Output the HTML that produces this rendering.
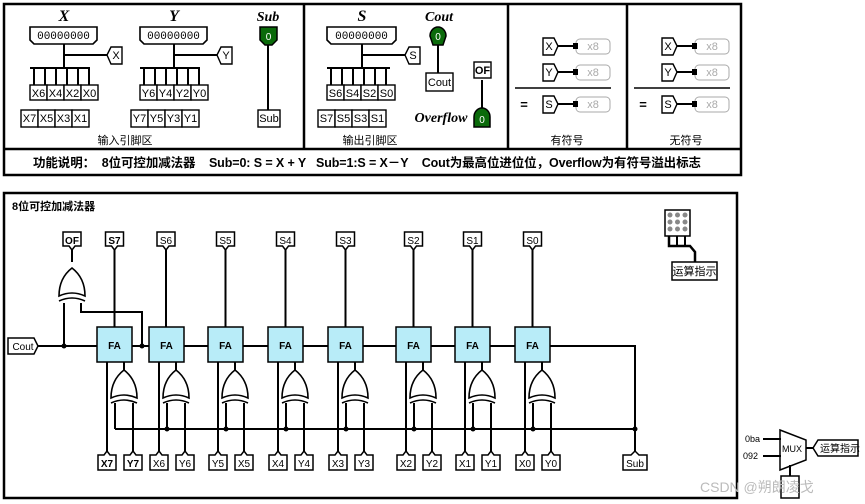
<!DOCTYPE html>
<html><head><meta charset="utf-8"><style>
html,body{margin:0;padding:0;background:#fff;}
svg{display:block;}
text{font-family:"Liberation Sans","Noto Sans CJK SC",sans-serif;}
text.ser{font-family:"Liberation Serif",serif;font-style:italic;font-weight:bold;}
</style></head><body>
<svg width="865" height="504" viewBox="0 0 865 504" xmlns="http://www.w3.org/2000/svg">
<defs>
<g id="xor" fill="none" stroke="#000" stroke-width="1.6">
<path d="M-13,28 Q0,22 13,28 Q13,10 0,0 Q-13,10 -13,28 Z" fill="#fff"/>
<path d="M-13,33 Q0,27 13,33"/>
</g>
<g id="pu" fill="#fff" stroke="#000" stroke-width="1.5"><path d="M-9,4 L-3,4 L0,0 L3,4 L9,4 L9,19 L-9,19 Z"/></g>
<g id="pd" fill="#fff" stroke="#000" stroke-width="1.5"><path d="M-9,0 L9,0 L9,14 L3,14 L0,18 L-3,14 L-9,14 Z"/></g>
</defs>
<g stroke="#000" stroke-width="2.5" fill="none">
<rect x="4" y="4" width="737" height="171"/>
<line x1="4" y1="149" x2="741" y2="149"/>
<line x1="304" y1="4" x2="304" y2="149"/>
<line x1="508" y1="4" x2="508" y2="149"/>
<line x1="627" y1="4" x2="627" y2="149"/>
<rect x="4" y="193" width="733" height="305"/>
</g>
<g>
<text class="ser" x="64" y="21" font-size="16" text-anchor="middle">X</text>
<text class="ser" x="174" y="21" font-size="16" text-anchor="middle">Y</text>
<text class="ser" x="268" y="21" font-size="14" text-anchor="middle">Sub</text>
<text class="ser" x="362" y="21" font-size="16" text-anchor="middle">S</text>
<text class="ser" x="439" y="21" font-size="14" text-anchor="middle">Cout</text>
<text class="ser" x="441" y="122" font-size="14" text-anchor="middle">Overflow</text>
</g>
<g stroke="#000" stroke-width="1.6" fill="#fff">
<path d="M30,27 H97 V40 L93,44 H34 L30,40 Z"/>
<path d="M140,27 H207 V40 L203,44 H144 L140,40 Z"/>
<path d="M327,27 H396 V40 L392,44 H331 L327,40 Z"/>
</g>
<g font-size="11" text-anchor="middle" style="font-family:'Liberation Mono',monospace">
<text x="63.5" y="39" style="font-family:'Liberation Mono',monospace">00000000</text><text x="173.5" y="39" style="font-family:'Liberation Mono',monospace">00000000</text><text x="361.5" y="39" style="font-family:'Liberation Mono',monospace">00000000</text>
</g>
<g stroke="#000" stroke-width="2" fill="none">
<path d="M64,44 V68 M64,55 H107 M30,68 H90 M34,68 V85 M45,68 V85 M56,68 V85 M67,68 V85 M78,68 V85 M89,68 V85"/>
<path d="M174,44 V68 M174,55 H217 M140,68 H200 M144,68 V85 M155,68 V85 M166,68 V85 M177,68 V85 M188,68 V85 M199,68 V85"/>
<path d="M362,44 V68 M362,55 H405 M327,68 H390 M331,68 V85 M342,68 V85 M353,68 V85 M364,68 V85 M375,68 V85 M386,68 V85"/>
<path d="M268,45 V110 M438,45 V73 M482,80 V108"/>
</g>
<g stroke="#000" stroke-width="1.4" fill="#fff">
<path d="M107,55 L111,47 H122 V64 H111 Z"/><path d="M217,55 L221,47 H232 V64 H221 Z"/><path d="M405,55 L409,47 H420 V64 H409 Z"/>
</g>
<g font-size="11" text-anchor="middle"><text x="116" y="59">X</text><text x="226" y="59">Y</text><text x="413" y="59">S</text></g>
<g stroke="#000" stroke-width="1.4" fill="#fff">
<rect x="30" y="85" width="17" height="15"/><rect x="47" y="85" width="17" height="15"/><rect x="64" y="85" width="17" height="15"/><rect x="81" y="85" width="17" height="15"/>
<rect x="21" y="110" width="17" height="17"/><rect x="38" y="110" width="17" height="17"/><rect x="55" y="110" width="17" height="17"/><rect x="72" y="110" width="17" height="17"/>
<rect x="140" y="85" width="17" height="15"/><rect x="157" y="85" width="17" height="15"/><rect x="174" y="85" width="17" height="15"/><rect x="191" y="85" width="17" height="15"/>
<rect x="131" y="110" width="17" height="17"/><rect x="148" y="110" width="17" height="17"/><rect x="165" y="110" width="17" height="17"/><rect x="182" y="110" width="17" height="17"/>
<rect x="327" y="85" width="17" height="15"/><rect x="344" y="85" width="17" height="15"/><rect x="361" y="85" width="17" height="15"/><rect x="378" y="85" width="17" height="15"/>
<rect x="318" y="110" width="17" height="17"/><rect x="335" y="110" width="17" height="17"/><rect x="352" y="110" width="17" height="17"/><rect x="369" y="110" width="17" height="17"/>
<rect x="258" y="110" width="22" height="17"/><rect x="426" y="73" width="27" height="18"/><rect x="474" y="62" width="17" height="16"/>
</g>
<g font-size="11" text-anchor="middle">
<text x="38.5" y="97">X6</text><text x="55.5" y="97">X4</text><text x="72.5" y="97">X2</text><text x="89.5" y="97">X0</text>
<text x="29.5" y="122">X7</text><text x="46.5" y="122">X5</text><text x="63.5" y="122">X3</text><text x="80.5" y="122">X1</text>
<text x="148.5" y="97">Y6</text><text x="165.5" y="97">Y4</text><text x="182.5" y="97">Y2</text><text x="199.5" y="97">Y0</text>
<text x="139.5" y="122">Y7</text><text x="156.5" y="122">Y5</text><text x="173.5" y="122">Y3</text><text x="190.5" y="122">Y1</text>
<text x="335.5" y="97">S6</text><text x="352.5" y="97">S4</text><text x="369.5" y="97">S2</text><text x="386.5" y="97">S0</text>
<text x="326.5" y="122">S7</text><text x="343.5" y="122">S5</text><text x="360.5" y="122">S3</text><text x="377.5" y="122">S1</text>
<text x="269" y="122">Sub</text><text x="439.5" y="86">Cout</text><text x="482.5" y="74" font-weight="bold">OF</text>
<text x="125" y="144">输入引脚区</text><text x="370" y="144">输出引脚区</text>
<text x="567" y="144">有符号</text><text x="686" y="144">无符号</text>
</g>
<g fill="#0a6a0a" stroke="#000" stroke-width="1.5">
<path d="M260,27 H277 V40 L272,45 H265 L260,40 Z"/>
<path d="M438,27 A8,9 0 0 1 446,36 L443,45 H433 L430,36 A8,9 0 0 1 438,27 Z"/>
<path d="M482,108 A8,9 0 0 1 490,117 L490,127 H474 L474,117 A8,9 0 0 1 482,108 Z"/>
</g>
<g fill="#fff" font-size="10" text-anchor="middle"><text x="268.5" y="40">0</text><text x="438" y="40">0</text><text x="482" y="123">0</text></g>
<g stroke="#000" stroke-width="1.4">
<path d="M543,38 H554 L558,46 L554,55 H543 Z" fill="#fff"/><path d="M543,64 H554 L558,72 L554,81 H543 Z" fill="#fff"/><path d="M543,96 H554 L558,104 L554,113 H543 Z" fill="#fff"/>
<path d="M662,38 H673 L677,46 L673,55 H662 Z" fill="#fff"/><path d="M662,64 H673 L677,72 L673,81 H662 Z" fill="#fff"/><path d="M662,96 H673 L677,104 L673,113 H662 Z" fill="#fff"/>
<path d="M558,46 H576 M558,72 H576 M558,104 H576 M677,46 H695 M677,72 H695 M677,104 H695" stroke-width="2"/>
<line x1="515" y1="88" x2="611" y2="88" stroke-width="1.5"/><line x1="634" y1="88" x2="730" y2="88" stroke-width="1.5"/>
</g>
<g fill="#fff" stroke="#aaa" stroke-width="1">
<rect x="576" y="39" width="34" height="15" rx="4"/><rect x="576" y="65" width="34" height="15" rx="4"/><rect x="576" y="97" width="34" height="15" rx="4"/>
<rect x="695" y="39" width="34" height="15" rx="4"/><rect x="695" y="65" width="34" height="15" rx="4"/><rect x="695" y="97" width="34" height="15" rx="4"/>
</g>
<g fill="#000"><rect x="573" y="43" width="5" height="6"/><rect x="573" y="69" width="5" height="6"/><rect x="573" y="101" width="5" height="6"/><rect x="692" y="43" width="5" height="6"/><rect x="692" y="69" width="5" height="6"/><rect x="692" y="101" width="5" height="6"/></g>
<g font-size="11" text-anchor="middle">
<text x="549" y="50">X</text><text x="549" y="76">Y</text><text x="549" y="108">S</text>
<text x="668" y="50">X</text><text x="668" y="76">Y</text><text x="668" y="108">S</text>
<g fill="#aaa"><text x="593" y="50">x8</text><text x="593" y="76">x8</text><text x="593" y="108">x8</text><text x="712" y="50">x8</text><text x="712" y="76">x8</text><text x="712" y="108">x8</text></g>
<text x="524" y="109" font-weight="bold" font-size="13">=</text><text x="643" y="109" font-weight="bold" font-size="13">=</text>
</g>
<text x="33" y="167" font-size="12.5" font-weight="bold" xml:space="preserve" textLength="668" lengthAdjust="spacing">功能说明：  8位可控加减法器    Sub=0: S = X + Y   Sub=1:S = X－Y    Cout为最高位进位位，Overflow为有符号溢出标志</text>
<text x="12" y="210" font-size="11" font-weight="bold">8位可控加减法器</text>
<g stroke="#000" stroke-width="2" fill="none">
<path d="M38,346 H635 V429 H115 M635,429 V452"/>
<path d="M64,346 V303 M81,303 V312 H142 V346"/>
<path d="M72,262 V250 M114.5,250 V327 M166,250 V327 M225.5,250 V327 M285.5,250 V327 M345.5,250 V327 M413.5,250 V327 M472.5,250 V327 M532.5,250 V327"/>
<path d="M107,362 V452 M124,362 V370 M115,403 V429 M133,403 V452"/>
<path d="M159,362 V452 M176,362 V370 M167,403 V429 M185,403 V452"/>
<path d="M218,362 V452 M235,362 V370 M226,403 V429 M244,403 V452"/>
<path d="M278,362 V452 M295,362 V370 M286,403 V429 M304,403 V452"/>
<path d="M338,362 V452 M355,362 V370 M346,403 V429 M364,403 V452"/>
<path d="M406,362 V452 M423,362 V370 M414,403 V429 M432,403 V452"/>
<path d="M465,362 V452 M482,362 V370 M473,403 V429 M491,403 V452"/>
<path d="M525,362 V452 M542,362 V370 M533,403 V429 M551,403 V452"/>
</g>
<use href="#xor" x="72" y="268"/>
<use href="#xor" x="124" y="370"/><use href="#xor" x="176" y="370"/><use href="#xor" x="235" y="370"/><use href="#xor" x="295" y="370"/>
<use href="#xor" x="355" y="370"/><use href="#xor" x="423" y="370"/><use href="#xor" x="482" y="370"/><use href="#xor" x="542" y="370"/>
<g fill="#b8ecf8" stroke="#000" stroke-width="1.5">
<rect x="97" y="327" width="35" height="35"/><rect x="149" y="327" width="35" height="35"/><rect x="208" y="327" width="35" height="35"/><rect x="268" y="327" width="35" height="35"/>
<rect x="328" y="327" width="35" height="35"/><rect x="396" y="327" width="35" height="35"/><rect x="455" y="327" width="35" height="35"/><rect x="515" y="327" width="35" height="35"/>
</g>
<g font-size="10" font-weight="bold" text-anchor="middle">
<text x="114.5" y="349">FA</text><text x="166.5" y="349">FA</text><text x="225.5" y="349">FA</text><text x="285.5" y="349">FA</text>
<text x="345.5" y="349">FA</text><text x="413.5" y="349">FA</text><text x="472.5" y="349">FA</text><text x="532.5" y="349">FA</text>
</g>
<g fill="#000">
<circle cx="64" cy="346" r="2.5"/><circle cx="142" cy="346" r="2.5"/><circle cx="635" cy="429" r="2.5"/>
<circle cx="167" cy="429" r="2.5"/><circle cx="226" cy="429" r="2.5"/><circle cx="286" cy="429" r="2.5"/><circle cx="346" cy="429" r="2.5"/><circle cx="414" cy="429" r="2.5"/><circle cx="473" cy="429" r="2.5"/><circle cx="533" cy="429" r="2.5"/>
</g>
<use href="#pd" x="72" y="232"/><use href="#pd" x="114.5" y="232"/><use href="#pd" x="166" y="232"/><use href="#pd" x="225.5" y="232"/><use href="#pd" x="285.5" y="232"/><use href="#pd" x="345.5" y="232"/><use href="#pd" x="413.5" y="232"/><use href="#pd" x="472.5" y="232"/><use href="#pd" x="532.5" y="232"/>
<g font-size="10" text-anchor="middle">
<text x="72" y="244" font-weight="bold">OF</text><text x="114.5" y="244" font-weight="bold">S7</text><text x="166" y="244">S6</text><text x="225.5" y="244">S5</text><text x="285.5" y="244">S4</text><text x="345.5" y="244">S3</text><text x="413.5" y="244">S2</text><text x="472.5" y="244">S1</text><text x="532.5" y="244">S0</text>
</g>
<g>
<use href="#pu" x="107" y="451"/><use href="#pu" x="133" y="451"/><use href="#pu" x="159" y="451"/><use href="#pu" x="185" y="451"/>
<use href="#pu" x="218" y="451"/><use href="#pu" x="244" y="451"/><use href="#pu" x="278" y="451"/><use href="#pu" x="304" y="451"/>
<use href="#pu" x="338" y="451"/><use href="#pu" x="364" y="451"/><use href="#pu" x="406" y="451"/><use href="#pu" x="432" y="451"/>
<use href="#pu" x="465" y="451"/><use href="#pu" x="491" y="451"/><use href="#pu" x="525" y="451"/><use href="#pu" x="551" y="451"/>
<path d="M623,455 H631 L635,451 L639,455 H647 V470 H623 Z" fill="#fff" stroke="#000" stroke-width="1.5"/>
<path d="M8,338 H34 L38,346 L34,354 H8 Z" fill="#fff" stroke="#000" stroke-width="1.5"/>
</g>
<g font-size="10" text-anchor="middle">
<text x="107" y="467" font-weight="bold">X7</text><text x="133" y="467" font-weight="bold">Y7</text><text x="159" y="467">X6</text><text x="185" y="467">Y6</text>
<text x="218" y="467">Y5</text><text x="244" y="467">X5</text><text x="278" y="467">X4</text><text x="304" y="467">Y4</text>
<text x="338" y="467">X3</text><text x="364" y="467">Y3</text><text x="406" y="467">X2</text><text x="432" y="467">Y2</text>
<text x="465" y="467">X1</text><text x="491" y="467">Y1</text><text x="525" y="467">X0</text><text x="551" y="467">Y0</text>
<text x="635" y="467">Sub</text><text x="23" y="350">Cout</text>
</g>
<rect x="665" y="210" width="25" height="26" fill="#fff" stroke="#000" stroke-width="1.5"/>
<g fill="#888"><circle cx="670" cy="215" r="2.5"/><circle cx="677.5" cy="215" r="2.5"/><circle cx="685" cy="215" r="2.5"/><circle cx="670" cy="222" r="2.5"/><circle cx="677.5" cy="222" r="2.5"/><circle cx="685" cy="222" r="2.5"/><circle cx="670" cy="229" r="2.5"/><circle cx="677.5" cy="229" r="2.5"/><circle cx="685" cy="229" r="2.5"/></g>
<path d="M669,236 V246 H690 L695,252 V262" stroke="#000" stroke-width="2.5" fill="none"/>
<path d="M677,236 V246 M685,236 V246" stroke="#000" stroke-width="2"/>
<rect x="672" y="262" width="45" height="18" fill="#fff" stroke="#000" stroke-width="1.5"/>
<text x="694.5" y="275" font-size="11" text-anchor="middle">运算指示</text>
<g stroke="#000" stroke-width="1.5" fill="#fff">
<path d="M780,430 L806,440 V460 L780,470 Z"/>
<path d="M818,440 H858 V456 H818 L813,448 Z"/>
<rect x="781" y="476" width="18" height="22"/>
</g>
<path d="M763,439 H781 M763,456 H781 M806,448 H813 M790,465 V476" stroke="#000" stroke-width="2"/>
<g font-size="9"><text x="745" y="442">0ba</text><text x="743" y="459">092</text><text x="782" y="452">MUX</text><text x="820" y="452" font-size="10">运算指示</text></g>
<text x="700" y="492" font-size="14" fill="#bbb">CSDN @朔朗凌戈</text>
</svg>
</body></html>
